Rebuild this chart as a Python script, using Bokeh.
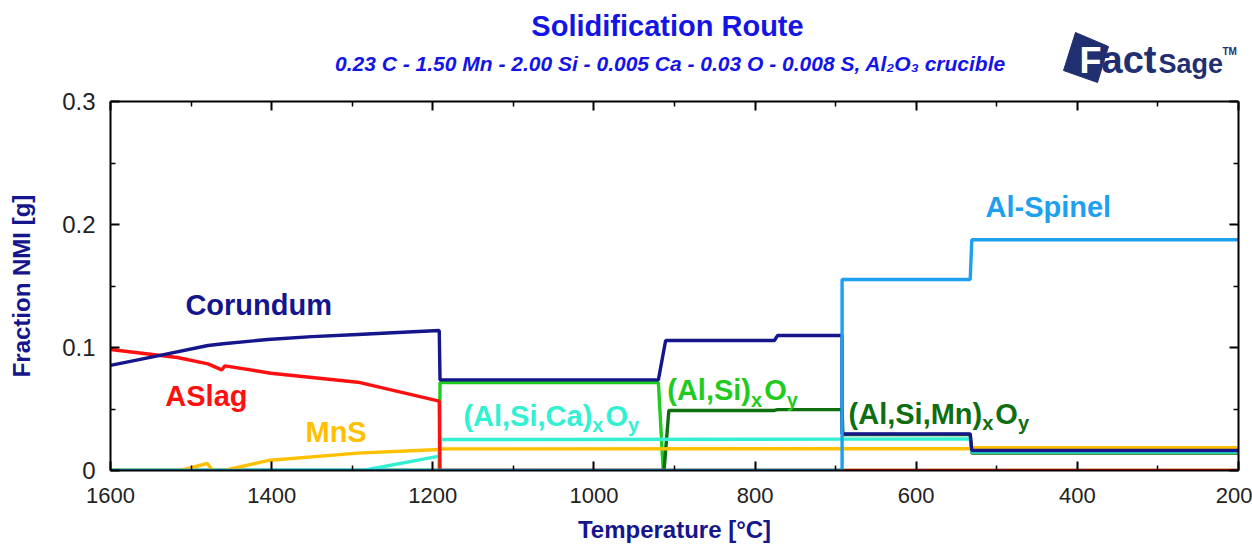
from bokeh.plotting import figure
from bokeh.layouts import column
from bokeh.models import Range1d, FixedTicker, LinearAxis, Label
from bokeh.embed import file_html
from bokeh.resources import INLINE

# ------------------------------------------------------------------ data
x_major_ticks = [1600, 1400, 1200, 1000, 800, 600, 400, 200]
x_minor_ticks = [1500, 1300, 1100, 900, 700, 500, 300]
y_major_ticks = [0, 0.1, 0.2, 0.3]
y_minor_ticks = [0.05, 0.15, 0.25]

# Corundum
corundum_T = [1600, 1540, 1479, 1460, 1405, 1350, 1293, 1250, 1192, 1191,
              920, 911, 776, 772, 692, 692, 533, 531, 200]
corundum_v = [0.0854, 0.0934, 0.1016, 0.1030, 0.1065, 0.1088, 0.1106, 0.1120,
              0.1138, 0.0737, 0.0737, 0.1057, 0.1057, 0.1098, 0.1098, 0.0298,
              0.0298, 0.0163, 0.0163]
# ASlag
aslag_T = [1600, 1517, 1479, 1462, 1458, 1401, 1293, 1192, 1191, 200]
aslag_v = [0.0984, 0.0919, 0.0867, 0.0818, 0.0851, 0.0791, 0.0718, 0.0564, 0.0, 0.0]
# MnS
mns_T = [1600, 1513, 1480, 1473, 1459, 1405, 1293, 1192, 1190, 533, 531, 200]
mns_v = [0.0, 0.0, 0.0057, 0.0, 0.0, 0.0081, 0.0141, 0.0171, 0.0176, 0.0177, 0.0185, 0.0185]
# (Al,Si,Ca)xOy
alsica_T = [1600, 1287, 1192, 1191, 692, 533, 531, 200]
alsica_v = [0.0, 0.0, 0.0117, 0.0252, 0.0255, 0.0257, 0.0150, 0.0150]
# (Al,Si)xOy
alsi_T = [1600, 1192, 1191, 920, 914, 200]
alsi_v = [0.0, 0.0, 0.0715, 0.0715, 0.0, 0.0]
# (Al,Si,Mn)xOy
alsimn_T = [1600, 913, 907, 776, 772, 692, 691, 533, 531, 200]
alsimn_v = [0.0, 0.0, 0.0488, 0.0488, 0.0495, 0.0495, 0.0293, 0.0293, 0.0141, 0.0141]
# Al-Spinel
spinel_T = [1600, 692, 692, 533, 531, 200]
spinel_v = [0.0, 0.0, 0.1553, 0.1553, 0.1876, 0.1876]

# label anchor positions (data units, text baseline) and texts
lab_corundum = (1507, 0.126, "Corundum")
lab_aslag = (1532, 0.052, "ASlag")
lab_mns = (1358, 0.0230, "MnS")
lab_alsica = (1162, 0.0358, [("(Al,Si,Ca)", False), ("x", True), ("O", False), ("y", True)])
lab_alsi = (909, 0.0569, [("(Al,Si)", False), ("x", True), ("O", False), ("y", True)])
lab_alsimn = (684, 0.0379, [("(Al,Si,Mn)", False), ("x", True), ("O", False), ("y", True)])
lab_spinel = (514, 0.206, "Al-Spinel")

title_text = "Solidification Route"
subtitle_text = "0.23 C - 1.50 Mn - 2.00 Si - 0.005 Ca - 0.03 O - 0.008 S, Al\u2082O\u2083 crucible"

# ------------------------------------------------------------------ style
FONT = "Liberation Sans"
NAVY = "#15158C"
RED = "#FF1010"
ORANGE = "#FFC000"
TURQ = "#33F0D2"
GREEN = "#1FCB1F"
DGREEN = "#0F6E0F"
LBLUE = "#1EA0F0"
BLUE = "#1414E6"
LOGO = "#1F2F6F"

FRAME_L, FRAME_R = 110, 1238

W = {'(': .333, ')': .333, 'A': .722, 'l': .278, ',': .278, 'S': .667, 'i': .278,
     'C': .722, 'a': .556, 'M': .833, 'n': .611, 'O': .778, 'x': .556, 'y': .556}


def tw(s, size):
    return sum(W.get(c, .556) for c in s) * size


def text_label(fig, x, y, txt, color, fs, style="bold", align="left", dx=0.0, dy=0.0):
    # Label centres its text box on y; shift so that y is the alphabetic baseline
    fig.add_layout(Label(x=x, y=y, x_offset=dx, y_offset=dy + 0.35 * fs, text=txt,
                         text_color=color, text_font=FONT, text_font_size=f"{fs}px",
                         text_font_style=style, text_align=align, text_baseline="middle"))


# ------------------------------------------------------------------ header (title + logo)
HEAD_H = 84
# the column layout aligns this frame with the chart frame below (x = 110 .. 1238 px)
head = figure(width=1252, height=HEAD_H, x_range=Range1d(FRAME_L, FRAME_R),
              y_range=Range1d(HEAD_H, 0),
              output_backend="svg", toolbar_location=None, min_border=0,
              x_axis_location=None, y_axis_location=None)
head.grid.visible = False
head.outline_line_color = None
head.background_fill_color = "white"
head.border_fill_color = "white"

text_label(head, 667, 36, title_text, BLUE, 29, align="center")
text_label(head, 670, 70, subtitle_text, BLUE, 21, style="bold italic", align="center")

# FactSage logo (decoration)
head.patch([1075, 1108, 1097, 1063], [32, 46, 82, 70], fill_color=LOGO, line_color=LOGO)
text_label(head, 1079, 73, "F", "white", 36)
text_label(head, 1101, 73, "act", LOGO, 38)
text_label(head, 1158, 73, "Sage", LOGO, 27)
text_label(head, 1222, 54, "TM", LOGO, 10)

# ------------------------------------------------------------------ main chart
p = figure(width=1252, height=550 - HEAD_H, x_range=Range1d(1600, 200), y_range=Range1d(0, 0.3),
           output_backend="svg", toolbar_location=None,
           min_border_left=FRAME_L, min_border_right=1252 - FRAME_R,
           min_border_top=101 - HEAD_H, min_border_bottom=80,
           x_axis_label="Temperature [°C]", y_axis_label="Fraction NMI [g]")
p.grid.visible = False
p.outline_line_color = None
p.background_fill_color = "white"
p.border_fill_color = "white"

xt = FixedTicker(ticks=x_major_ticks, minor_ticks=x_minor_ticks)
yt = FixedTicker(ticks=y_major_ticks, minor_ticks=y_minor_ticks)


def style_axis(ax):
    ax.axis_line_color = "black"
    ax.axis_line_width = 2
    ax.major_tick_in = 9
    ax.major_tick_out = 0
    ax.minor_tick_in = 5
    ax.minor_tick_out = 0
    ax.major_tick_line_width = 2
    ax.minor_tick_line_width = 1.5
    ax.major_tick_line_color = "black"
    ax.minor_tick_line_color = "black"
    ax.major_label_text_font = FONT
    ax.major_label_text_color = "#222222"
    ax.axis_label_text_font = FONT
    ax.axis_label_text_font_style = "bold"
    ax.axis_label_text_color = NAVY


xa = p.xaxis[0]
xa.ticker = xt
style_axis(xa)
xa.major_label_text_font_size = "22px"
xa.major_label_standoff = 17
xa.axis_label_text_font_size = "24px"
xa.axis_label_standoff = 10

ya = p.yaxis[0]
ya.ticker = yt
style_axis(ya)
ya.major_label_text_font_size = "24px"
ya.major_label_standoff = 15
ya.axis_label_text_font_size = "24px"
ya.axis_label_standoff = 24

for ax, loc in ((LinearAxis(ticker=xt), "above"), (LinearAxis(ticker=yt), "right")):
    style_axis(ax)
    ax.major_label_text_font_size = "1px"
    ax.major_label_text_color = None
    ax.major_label_standoff = 0
    p.add_layout(ax, loc)

# lines
LW = 3.4
p.line(alsi_T, alsi_v, line_color=GREEN, line_width=LW)
p.line(alsimn_T, alsimn_v, line_color=DGREEN, line_width=LW)
p.line(alsica_T, alsica_v, line_color=TURQ, line_width=LW)
p.line(mns_T, mns_v, line_color=ORANGE, line_width=LW)
p.line(aslag_T, aslag_v, line_color=RED, line_width=LW)
p.line(corundum_T, corundum_v, line_color=NAVY, line_width=LW)
p.line(spinel_T, spinel_v, line_color=LBLUE, line_width=LW)

# phase labels
LF, SF = 29, 20


def simple_label(spec, color):
    T, v, txt = spec
    text_label(p, T, v, txt, color, LF)


def chem_label(spec, color):
    T, v, parts = spec
    off = 0.0
    for txt, is_sub in parts:
        fs = SF if is_sub else LF
        text_label(p, T, v, txt, color, fs, dx=off, dy=-6 if is_sub else 0)
        off += tw(txt, fs) + (2 if is_sub else 0)


simple_label(lab_corundum, NAVY)
simple_label(lab_aslag, RED)
simple_label(lab_mns, ORANGE)
chem_label(lab_alsica, TURQ)
chem_label(lab_alsi, GREEN)
chem_label(lab_alsimn, DGREEN)
simple_label(lab_spinel, LBLUE)

layout = column(head, p, spacing=0)
open("out.html", "w").write(file_html(layout, INLINE))
